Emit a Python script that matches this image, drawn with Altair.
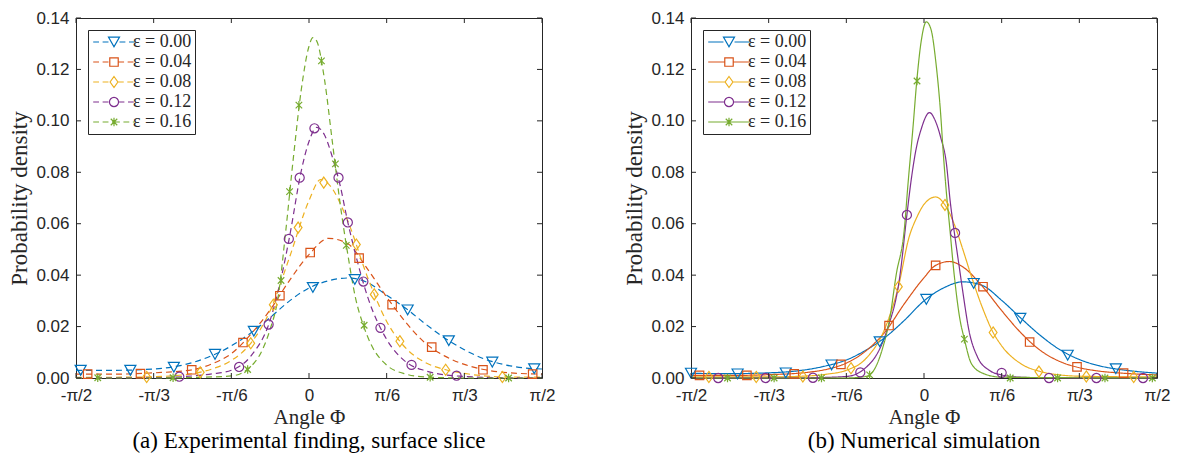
import json
import altair as alt
import pandas as pd

# ---------------- data (x in units of pi/6, y = probability density) -------------
SERIES = ["ε = 0.00", "ε = 0.04", "ε = 0.08", "ε = 0.12", "ε = 0.16"]
COLORS = ["#0072BD", "#D95319", "#EDB120", "#7E2F8E", "#77AC30"]

X_TICKS = [-3, -2, -1, 0, 1, 2, 3]
X_TICK_LABELS = ["-π/2", "-π/3", "-π/6", "0", "π/6", "π/3", "π/2"]
Y_TICKS = [0.0, 0.02, 0.04, 0.06, 0.08, 0.10, 0.12, 0.14]

CAPTION_A = "(a) Experimental finding, surface slice"
CAPTION_B = "(b) Numerical simulation"

# ---- (a) experimental curves ----
exp_x_00 = [-3, -2.5, -2, -1.5, -1, -0.75, -0.5, -0.25, 0, 0.25, 0.5, 0.75, 1, 1.25, 1.5, 1.75, 2, 2.25, 2.5, 2.75, 3]
exp_y_00 = [0.0030, 0.0030, 0.0035, 0.0060, 0.0125, 0.0175, 0.0235, 0.0300, 0.0350, 0.0378, 0.0389, 0.0372, 0.0322, 0.0270, 0.0210, 0.0155, 0.0110, 0.0075, 0.0053, 0.0040, 0.0035]
exp_x_04 = [-3, -2.5, -2, -1.5, -1.25, -1, -0.75, -0.5, -0.25, 0, 0.25, 0.5, 0.75, 1, 1.25, 1.5, 1.75, 2, 2.25, 2.5, 3]
exp_y_04 = [0.0015, 0.0015, 0.0020, 0.0032, 0.0055, 0.0095, 0.0170, 0.0265, 0.0380, 0.0480, 0.0543, 0.0522, 0.0425, 0.0315, 0.0215, 0.0135, 0.0085, 0.0053, 0.0033, 0.0022, 0.0015]
exp_x_08 = [-3, -2.5, -2, -1.5, -1.25, -1, -0.75, -0.5, -0.25, 0, 0.15, 0.25, 0.5, 0.75, 1, 1.25, 1.5, 1.75, 2, 2.5, 3]
exp_y_08 = [0.0003, 0.0003, 0.0005, 0.0017, 0.0035, 0.0068, 0.0135, 0.0262, 0.0470, 0.0690, 0.0772, 0.0755, 0.0610, 0.0395, 0.0220, 0.0115, 0.0060, 0.0033, 0.0018, 0.0004, 0.0003]
exp_x_12 = [-3, -2, -1.5, -1.25, -1, -0.75, -0.5, -0.35, -0.25, -0.1, 0, 0.1, 0.2, 0.3, 0.4, 0.5, 0.6, 0.75, 1, 1.25, 1.5, 1.75, 2, 2.5, 3]
exp_y_12 = [0.0000, 0.0001, 0.0008, 0.0016, 0.0030, 0.0085, 0.0225, 0.0400, 0.0550, 0.0805, 0.0920, 0.0975, 0.0945, 0.0860, 0.0750, 0.0605, 0.0480, 0.0320, 0.0150, 0.0062, 0.0028, 0.0012, 0.0006, 0.0001, 0.0000]
exp_x_16 = [-3, -2, -1.5, -1, -0.8, -0.6, -0.5, -0.4, -0.3, -0.2, -0.1, 0, 0.05, 0.1, 0.2, 0.3, 0.4, 0.5, 0.6, 0.7, 0.8, 1, 1.25, 1.5, 2, 3]
exp_y_16 = [0.0, 0.0, 0.0002, 0.0008, 0.0032, 0.0110, 0.0190, 0.0310, 0.0570, 0.0860, 0.1120, 0.1290, 0.1324, 0.1310, 0.1160, 0.0920, 0.0680, 0.0480, 0.0310, 0.0205, 0.0130, 0.0050, 0.0015, 0.0004, 0.0, 0.0]

# ---- (a) experimental markers ----
exp_mx_00 = [-2.94, -2.30, -1.74, -1.21, -0.71, 0.05, 0.59, 1.27, 1.80, 2.36, 2.90]
exp_my_00 = [0.0030, 0.0030, 0.0042, 0.0092, 0.0182, 0.0352, 0.0383, 0.0265, 0.0145, 0.0062, 0.0036]
exp_mx_04 = [-2.85, -2.17, -1.51, -0.85, -0.375, 0.015, 0.645, 1.07, 1.58, 2.24, 2.88]
exp_my_04 = [0.0015, 0.0017, 0.0032, 0.0138, 0.0320, 0.0488, 0.0466, 0.0285, 0.0120, 0.0032, 0.0015]
exp_mx_08 = [-2.09, -1.40, -0.75, -0.46, -0.14, 0.19, 0.61, 0.84, 1.17, 1.76, 2.49]
exp_my_08 = [0.0004, 0.0022, 0.0135, 0.0285, 0.0585, 0.0760, 0.0519, 0.0325, 0.0143, 0.0032, 0.0004]
exp_mx_12 = [-1.67, -0.90, -0.52, -0.26, -0.12, 0.07, 0.38, 0.50, 0.70, 0.92, 1.32, 1.90]
exp_my_12 = [0.0005, 0.0043, 0.0208, 0.0541, 0.0779, 0.0971, 0.0779, 0.0605, 0.0375, 0.0195, 0.0051, 0.0009]
exp_mx_16 = [-2.72, -1.75, -0.79, -0.36, -0.25, -0.13, 0.16, 0.34, 0.48, 0.71, 1.56, 2.57]
exp_my_16 = [0.0001, 0.0001, 0.0033, 0.0379, 0.0725, 0.1061, 0.1233, 0.0833, 0.0516, 0.0205, 0.0003, 0.0000]

# ---- (b) simulation curves ----
sim_x_00 = [-3, -2.5, -2, -1.5, -1.25, -1, -0.75, -0.5, -0.25, 0, 0.25, 0.5, 0.75, 1, 1.25, 1.5, 1.75, 2, 2.25, 2.5, 2.75, 3]
sim_y_00 = [0.0018, 0.0017, 0.0020, 0.0033, 0.0048, 0.0070, 0.0108, 0.0158, 0.0225, 0.0300, 0.0350, 0.0374, 0.0360, 0.0302, 0.0232, 0.0165, 0.0110, 0.0072, 0.0048, 0.0034, 0.0025, 0.0019]
sim_x_04 = [-3, -2.5, -2, -1.5, -1.25, -1, -0.75, -0.5, -0.25, 0, 0.15, 0.33, 0.5, 0.75, 1, 1.25, 1.5, 1.75, 2, 2.25, 2.5, 3]
sim_y_04 = [0.0010, 0.0010, 0.0013, 0.0022, 0.0034, 0.0058, 0.0105, 0.0180, 0.0290, 0.0390, 0.0438, 0.0453, 0.0432, 0.0357, 0.0262, 0.0175, 0.0107, 0.0064, 0.0040, 0.0027, 0.0020, 0.0012]
sim_x_08 = [-3, -2, -1.5, -1.25, -1, -0.75, -0.5, -0.33, -0.19, -0.1, 0, 0.15, 0.27, 0.4, 0.5, 0.6, 0.75, 0.89, 1, 1.25, 1.5, 1.75, 2, 3]
sim_y_08 = [0.0004, 0.0004, 0.0008, 0.0015, 0.0030, 0.0075, 0.0195, 0.0355, 0.0550, 0.0620, 0.0675, 0.0704, 0.0673, 0.0590, 0.0500, 0.0405, 0.0275, 0.0177, 0.0125, 0.0055, 0.0025, 0.0012, 0.0007, 0.0004]
sim_x_12 = [-3, -1.5, -1, -0.83, -0.7, -0.63, -0.48, -0.31, -0.22, -0.165, -0.1, -0.035, 0.07, 0.15, 0.22, 0.285, 0.34, 0.39, 0.45, 0.5, 0.58, 0.69, 0.84, 1, 1.25, 1.5, 3]
sim_y_12 = [0.0, 0.0001, 0.0006, 0.0022, 0.0055, 0.0081, 0.0183, 0.0398, 0.0635, 0.0770, 0.0893, 0.0969, 0.1032, 0.0997, 0.0930, 0.0842, 0.0680, 0.0567, 0.0440, 0.0335, 0.0183, 0.0081, 0.0030, 0.0012, 0.0003, 0.0001, 0.0]
sim_x_16 = [-3, -1, -0.75, -0.66, -0.53, -0.44, -0.36, -0.25, -0.21, -0.14, -0.093, -0.036, 0.03, 0.09, 0.155, 0.21, 0.25, 0.29, 0.33, 0.39, 0.46, 0.52, 0.61, 0.76, 1, 3]
sim_y_16 = [0.0, 0.0, 0.0006, 0.0024, 0.0119, 0.0233, 0.0398, 0.0589, 0.0740, 0.0981, 0.1155, 0.1310, 0.1385, 0.1356, 0.1222, 0.1045, 0.0867, 0.0715, 0.0589, 0.0398, 0.0233, 0.0151, 0.0056, 0.0018, 0.0003, 0.0]

# ---- (b) simulation markers ----
sim_mx_00 = [-3.0, -2.40, -1.78, -1.19, -0.57, 0.03, 0.64, 1.24, 1.85, 2.47]
sim_my_00 = [0.0019, 0.0016, 0.0020, 0.0051, 0.0141, 0.0306, 0.0368, 0.0232, 0.0089, 0.0036]
sim_mx_04 = [-2.89, -2.28, -1.67, -1.07, -0.45, 0.15, 0.76, 1.36, 1.97, 2.57]
sim_my_04 = [0.0010, 0.0010, 0.0016, 0.0053, 0.0204, 0.0438, 0.0355, 0.0140, 0.0043, 0.0019]
sim_mx_08 = [-2.77, -2.16, -1.56, -0.94, -0.33, 0.27, 0.89, 1.48, 2.09, 2.70]
sim_my_08 = [0.0004, 0.0004, 0.0006, 0.0038, 0.0355, 0.0673, 0.0177, 0.0025, 0.0006, 0.0004]
sim_mx_12 = [-2.65, -2.04, -1.43, -0.82, -0.22, 0.40, 1.00, 1.61, 2.22, 2.82]
sim_my_12 = [0.0, 0.0, 0.0001, 0.0022, 0.0634, 0.0564, 0.0020, 0.0, 0.0, 0.0]
sim_mx_16 = [-2.53, -1.93, -1.32, -0.70, -0.09, 0.52, 1.11, 1.72, 2.33, 2.94]
sim_my_16 = [0.0, 0.0, 0.0, 0.0012, 0.1155, 0.0151, 0.0, 0.0, 0.0, 0.0]

# ---------------- styling ----------------
W, H = 466, 360
AX = "#262626"
TICK = 5

MARKERS = [  # (path, half width along the legend line)
    ("M-0.85,-0.75L0.85,-0.75L0,0.75Z", 0.85),
    ("M-0.65,-0.65L0.65,-0.65L0.65,0.65L-0.65,0.65Z", 0.65),
    ("M0,-0.85L0.6,0L0,0.85L-0.6,0Z", 0.6),
    ("M-0.7,0A0.7,0.7,0,1,1,0.7,0A0.7,0.7,0,1,1,-0.7,0Z", 0.7),
    ("M-0.5,-0.5L0.5,0.5M-0.5,0.5L0.5,-0.5M0,-0.65L0,0.65", 0.0),
]
L_HALF = 3.2


def seg_path(a, b, dashed):
    if not dashed:
        return f"M{a:.2f},0L{b:.2f},0"
    out, x = [], a
    while x < b - 1e-6:
        e = min(x + 0.9, b)
        out.append(f"M{x:.2f},0L{e:.2f},0")
        x = e + 0.55
    return "".join(out)


def legend_paths(dashed):
    paths = []
    for p, w in MARKERS:
        paths.append(seg_path(-L_HALF, -w, dashed) + seg_path(w, L_HALF, dashed) + p)
    return paths


def long_df(xs, ys):
    rows = []
    for s, xx, yy in zip(SERIES, xs, ys):
        rows += [{"series": s, "x": a, "y": b} for a, b in zip(xx, yy)]
    return pd.DataFrame(rows)


def panel(curve_x, curve_y, mark_x, mark_y, dashed, caption):
    xenc = alt.X("x:Q", scale=alt.Scale(domain=[-3, 3], nice=False, zero=False),
                 axis=alt.Axis(values=X_TICKS, title="Angle Φ", labelFlush=False,
                               labelExpr=json.dumps(X_TICK_LABELS) + "[datum.value + 3]",
                               labelPadding=9, titlePadding=3, titleFontSize=21))
    yenc = alt.Y("y:Q", scale=alt.Scale(domain=[0, 0.14], nice=False),
                 axis=alt.Axis(values=Y_TICKS, format=".2f", title="Probability density",
                               labelFlush=False, labelPadding=7, titlePadding=4, titleFontSize=23))
    cscale = alt.Scale(domain=SERIES, range=COLORS)

    leg = alt.Legend(title=None, orient="top-left", offset=12, padding=3, rowPadding=2,
                     strokeColor=AX, fillColor="white", labelFont="Liberation Serif",
                     labelFontSize=18, labelColor=AX, symbolSize=169, symbolStrokeWidth=1.2,
                     symbolOffset=14, labelOffset=10)
    legend_df = pd.DataFrame({"series": SERIES, "x": [0.0] * 5, "y": [-1.0] * 5})
    legend_layer = alt.Chart(legend_df).mark_point(
        filled=False, clip=True, size=169, strokeWidth=1.2, opacity=1
    ).encode(
        x=xenc, y=yenc,
        color=alt.Color("series:N", scale=cscale, legend=leg),
        shape=alt.Shape("series:N", scale=alt.Scale(domain=SERIES, range=legend_paths(dashed)), legend=leg),
    )

    lines = alt.Chart(long_df(curve_x, curve_y)).mark_line(
        strokeWidth=1.2, interpolate="monotone", strokeDash=[6, 4] if dashed else [1, 0]
    ).encode(x=xenc, y=yenc, color=alt.Color("series:N", scale=cscale))

    mdf = long_df(mark_x, mark_y)
    layers = [legend_layer, lines]
    for i, s in enumerate(SERIES):
        layers.append(
            alt.Chart(mdf).transform_filter(alt.datum.series == s).mark_point(
                shape=MARKERS[i][0], size=169, filled=False, strokeWidth=1.2, opacity=1
            ).encode(x=xenc, y=yenc, color=alt.Color("series:N", scale=cscale))
        )

    xt = pd.DataFrame({"x": X_TICKS})
    yt = pd.DataFrame({"y": Y_TICKS})
    rule = dict(color=AX, strokeWidth=1)
    layers += [
        alt.Chart(xt).mark_rule(**rule).encode(x=xenc, y=alt.value(0), y2=alt.value(TICK)),
        alt.Chart(xt).mark_rule(**rule).encode(x=xenc, y=alt.value(H - TICK), y2=alt.value(H)),
        alt.Chart(yt).mark_rule(**rule).encode(y=yenc, x=alt.value(0), x2=alt.value(TICK)),
        alt.Chart(yt).mark_rule(**rule).encode(y=yenc, x=alt.value(W - TICK), x2=alt.value(W)),
    ]
    return alt.layer(*layers).properties(
        width=W, height=H,
        title=alt.TitleParams(caption, orient="bottom", frame="group", font="Liberation Serif",
                              fontSize=23, fontWeight="normal", color="black", offset=3),
    )


left = panel([exp_x_00, exp_x_04, exp_x_08, exp_x_12, exp_x_16],
             [exp_y_00, exp_y_04, exp_y_08, exp_y_12, exp_y_16],
             [exp_mx_00, exp_mx_04, exp_mx_08, exp_mx_12, exp_mx_16],
             [exp_my_00, exp_my_04, exp_my_08, exp_my_12, exp_my_16], True, CAPTION_A)
right = panel([sim_x_00, sim_x_04, sim_x_08, sim_x_12, sim_x_16],
              [sim_y_00, sim_y_04, sim_y_08, sim_y_12, sim_y_16],
              [sim_mx_00, sim_mx_04, sim_mx_08, sim_mx_12, sim_mx_16],
              [sim_my_00, sim_my_04, sim_my_08, sim_my_12, sim_my_16], False, CAPTION_B)

chart = alt.hconcat(left, right, spacing=67).resolve_scale(
    color="independent", shape="independent", x="independent", y="independent"
).resolve_legend(color="independent", shape="independent").properties(padding=0).configure_view(
    stroke=AX, strokeWidth=1
).configure_axis(
    labelFont="Liberation Sans", labelFontSize=17, labelColor=AX,
    titleFont="Liberation Serif", titleFontWeight="normal", titleColor=AX,
    domain=False, ticks=False, grid=False,
)

chart.save("out.html", embed_options={"renderer": "svg", "actions": False})
